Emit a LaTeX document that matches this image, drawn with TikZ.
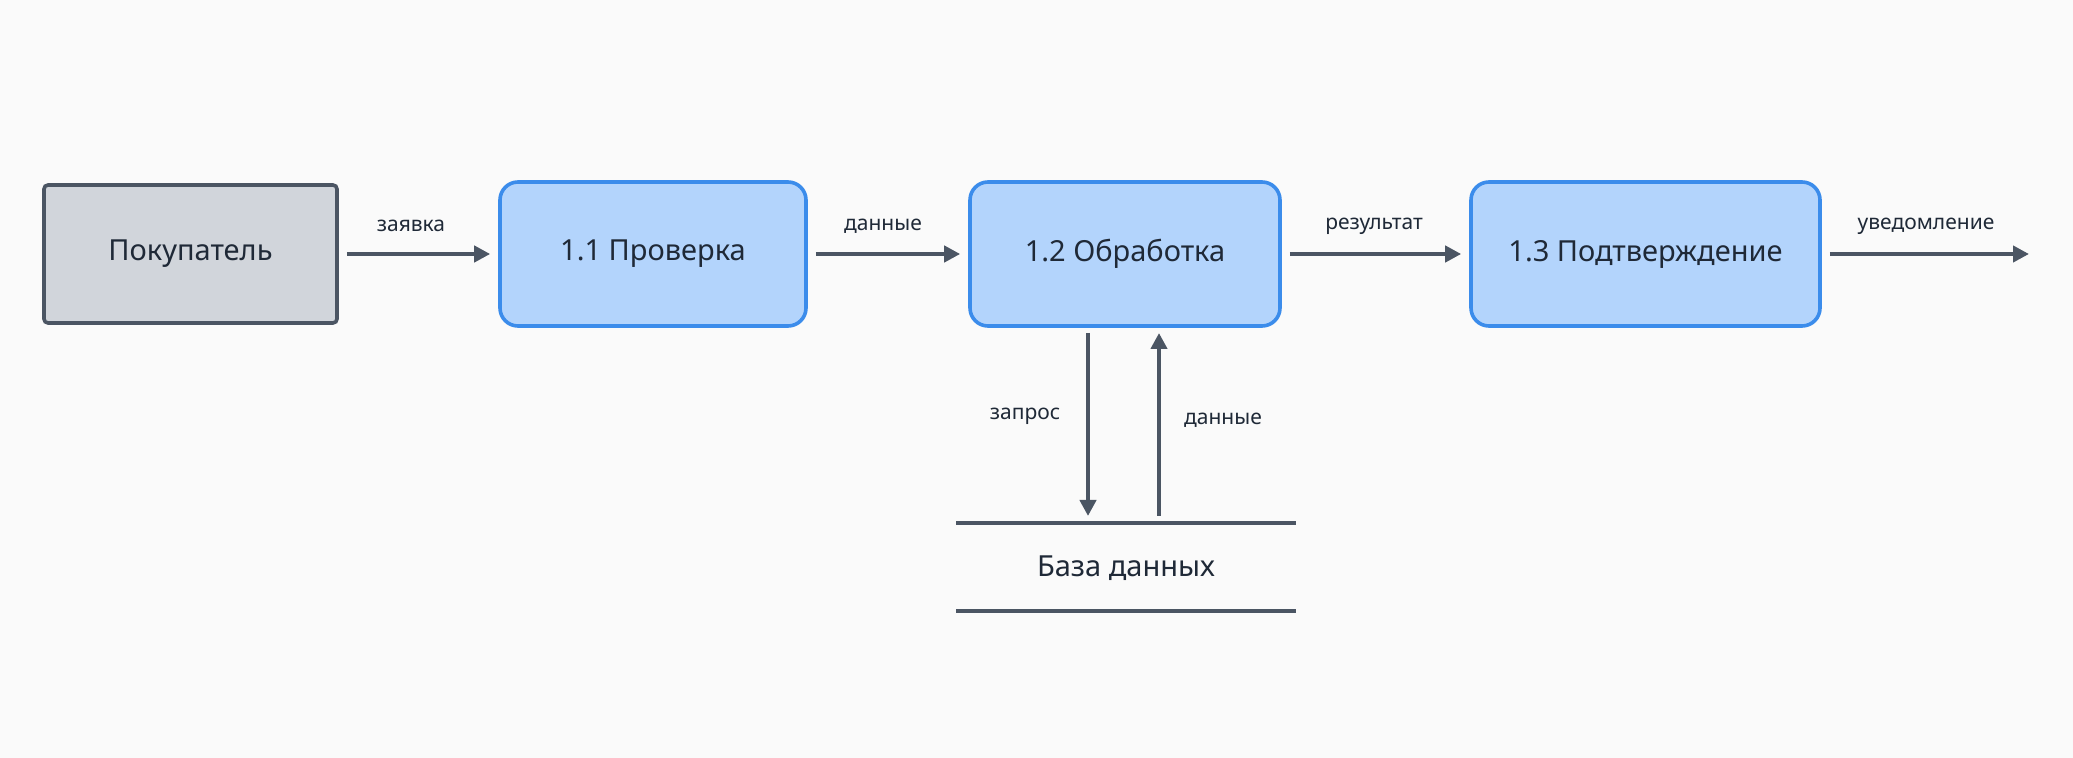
\documentclass[tikz,border=0pt]{standalone}
\usepackage{fontspec}
\setmainfont{Noto Sans}
\usetikzlibrary{arrows.meta}
\definecolor{procfill}{HTML}{B3D4FC}
\definecolor{procline}{HTML}{3B8CEB}
\definecolor{extfill}{HTML}{D1D5DB}
\definecolor{darkline}{HTML}{4B5563}
\definecolor{txt}{HTML}{1F2937}
\begin{document}
\begin{tikzpicture}[x=0.5pt,y=-0.5pt,line width=1.8pt]

	\tikzstyle{process} = [draw=procline,fill=procfill,rounded corners=9pt,font=\fontsize{14.5}{17}\selectfont,text=txt]
	\tikzstyle{entity} = [draw=darkline,fill=extfill,rounded corners=2pt,font=\fontsize{14.5}{17}\selectfont,text=txt]
	\tikzstyle{flow} = [draw=darkline,line width=2pt,-{Triangle[length=8pt,width=8pt]}]
	\tikzstyle{lbl} = [font=\fontsize{10.5}{12}\selectfont,text=txt]

	\fill[white!98!black] (0,0) rectangle (2073,758);

	\node[entity,minimum width=146.5pt,minimum height=69pt] (buyer) at (190.5,254) {Покупатель};
	\node[process,minimum width=153pt,minimum height=72pt] (check) at (653,254) {1.1 Проверка};
	\node[process,minimum width=155pt,minimum height=72pt] (proc) at (1125,254) {1.2 Обработка};
	\node[process,minimum width=174.5pt,minimum height=72pt] (conf) at (1645.5,254) {1.3 Подтверждение};
	\coordinate (out) at (2029,254);

	% flows
	\draw[flow] ([xshift=4]buyer.east) -- ([xshift=-4]check.west);
	\draw[flow] ([xshift=4]check.east) -- ([xshift=-4]proc.west);
	\draw[flow] ([xshift=4]proc.east) -- ([xshift=-4]conf.west);
	\draw[flow] ([xshift=4]conf.east) -- (out);

	\node[lbl] (l1) at (411,226) {заявка};
	\node[lbl] (l2) at (883,226) {данные};
	\node[lbl] (l3) at (1374,226) {результат};
	\node[lbl] (l4) at (1926,226) {уведомление};

	% data store
	\coordinate (dbtl) at (956,523);
	\coordinate (dbtr) at (1296,523);
	\coordinate (dbbl) at (956,611);
	\coordinate (dbbr) at (1296,611);
	\draw[darkline] (dbtl) -- (dbtr);
	\draw[darkline] (dbbl) -- (dbbr);
	\node[font=\fontsize{14.5}{17}\selectfont,text=txt] (db) at (1126,568) {База данных};

	\coordinate (qtop) at (1088,333);
	\coordinate (qbot) at (1088,516);
	\coordinate (dtop) at (1159,333);
	\coordinate (dbot) at (1159,516);
	\draw[flow] (qtop) -- (qbot);
	\draw[flow] (dbot) -- (dtop);
	\node[lbl] (l5) at (1025,416) {запрос};
	\node[lbl] (l6) at (1223,420) {данные};

\end{tikzpicture}
\end{document}
